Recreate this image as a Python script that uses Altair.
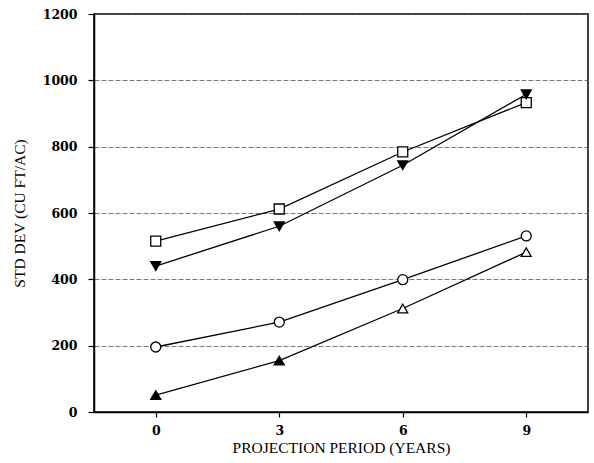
import altair as alt
import pandas as pd

years = [0, 3, 6, 9]
squares = [515, 612, 784, 933]
inv_triangles = [440, 560, 744, 958]
circles = [196, 271, 399, 531]
triangles = [51, 155, 312, 482]
triangle_fill = ["black", "black", "white", "white"]

rows = []
for name, vals, shape, fills in [
    ("A", squares, "square", ["white"] * 4),
    ("B", inv_triangles, "triangle-down", ["black"] * 4),
    ("C", circles, "circle", ["white"] * 4),
    ("D", triangles, "triangle-up", triangle_fill),
]:
    for x, v, f in zip(years, vals, fills):
        rows.append({"series": name, "year": x, "value": v, "shape": shape, "fillc": f})
df = pd.DataFrame(rows)

x_enc = alt.X("year:Q",
              scale=alt.Scale(domain=[-1.5, 10.5], nice=False, zero=False),
              axis=alt.Axis(values=years, title="PROJECTION PERIOD (YEARS)", grid=False,
                            format="d", tickSize=5, labelPadding=7, titlePadding=4))
y_enc = alt.Y("value:Q",
              scale=alt.Scale(domain=[0, 1200], nice=False),
              axis=alt.Axis(values=[0, 200, 400, 600, 800, 1000, 1200], format="d",
                            title="STD DEV (CU FT/AC)", grid=True,
                            gridDash=[5, 2], gridColor="#555", gridWidth=0.8,
                            tickSize=6, labelPadding=11, titlePadding=15))

lines = alt.Chart(df).mark_line(color="black", strokeWidth=1.3).encode(
    x=x_enc, y=y_enc, detail="series:N")

points = alt.Chart(df).mark_point(filled=True, stroke="black", strokeWidth=1.3, opacity=1).encode(
    x="year:Q", y="value:Q",
    shape=alt.Shape("shape:N", scale=None),
    fill=alt.Fill("fillc:N", scale=None),
    size=alt.value(100))

chart = alt.layer(lines, points).properties(
    width=494, height=398,
    autosize=alt.AutoSizeParams(type="none"),
    padding={"left": 94, "top": 14, "right": 6, "bottom": 51},
    background="white",
).configure_view(stroke="black", strokeWidth=1.5).configure_axis(
    domainColor="black", domainWidth=1.5, tickColor="black", tickWidth=1.2,
    labelFont="DejaVu Serif", labelFontSize=12.5, labelFontWeight="bold", labelColor="black",
    titleFont="Liberation Serif", titleFontSize=15.5, titleFontWeight="normal", titleColor="black",
)

chart.save("out.html", embed_options={"renderer": "svg", "actions": False})
